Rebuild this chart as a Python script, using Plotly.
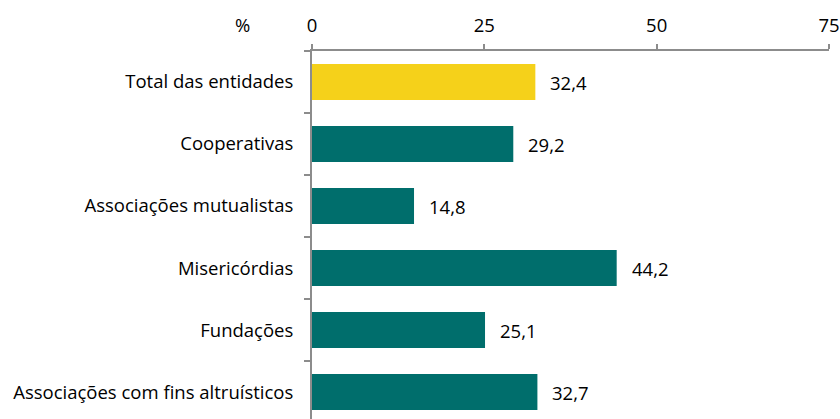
import plotly.graph_objects as go

categories = ["Total das entidades", "Cooperativas", "Associações mutualistas",
              "Misericórdias", "Fundações", "Associações com fins altruísticos"]
values = [32.4, 29.2, 14.8, 44.2, 25.1, 32.7]
colors = ["#F5D11A", "#006E6C", "#006E6C", "#006E6C", "#006E6C", "#006E6C"]
x_ticks = [0, 25, 50, 75]
unit_label = "%"

FONT = "Open Sans"
FS = 18.5
fig = go.Figure()
fig.add_trace(go.Bar(
    x=values, y=categories, orientation="h",
    marker=dict(color=colors, line=dict(width=0)),
    width=0.58, showlegend=False, hoverinfo="skip",
))
for c, v in zip(categories, values):
    fig.add_annotation(x=v, y=c, text=f"{v:.1f}".replace(".", ","), showarrow=False,
                       xanchor="left", xshift=13, font=dict(family=FONT, size=FS, color="#000"))
fig.add_annotation(xref="paper", yref="paper", x=-0.135, y=1, yshift=27, text=unit_label,
                   showarrow=False, xanchor="center", yanchor="middle",
                   font=dict(family=FONT, size=FS, color="#000"))

fig.update_layout(
    width=840, height=419,
    margin=dict(l=312, r=11, t=51, b=0, autoexpand=False),
    paper_bgcolor="white", plot_bgcolor="white",
    font=dict(family=FONT, size=FS, color="#000"),
    xaxis=dict(side="top", range=[0, 75], tickvals=x_ticks, showgrid=False, zeroline=False,
               showline=True, linecolor="#8C8C8C", linewidth=2, ticks="outside", ticklen=5,
               tickcolor="#8C8C8C", tickwidth=2, ticklabelstandoff=5, automargin=False),
    yaxis=dict(type="category", categoryorder="array", categoryarray=categories,
               range=[5.435, -0.5], showgrid=False, zeroline=False, showline=True,
               linecolor="#8C8C8C", linewidth=2, ticks="outside", ticklen=6,
               tickcolor="#8C8C8C", tickwidth=2, tickson="boundaries", ticklabelstandoff=13,
               automargin=False),
)
fig.write_html("out.html", config={"displayModeBar": False},
               post_script="document.body.style.margin='0';")
